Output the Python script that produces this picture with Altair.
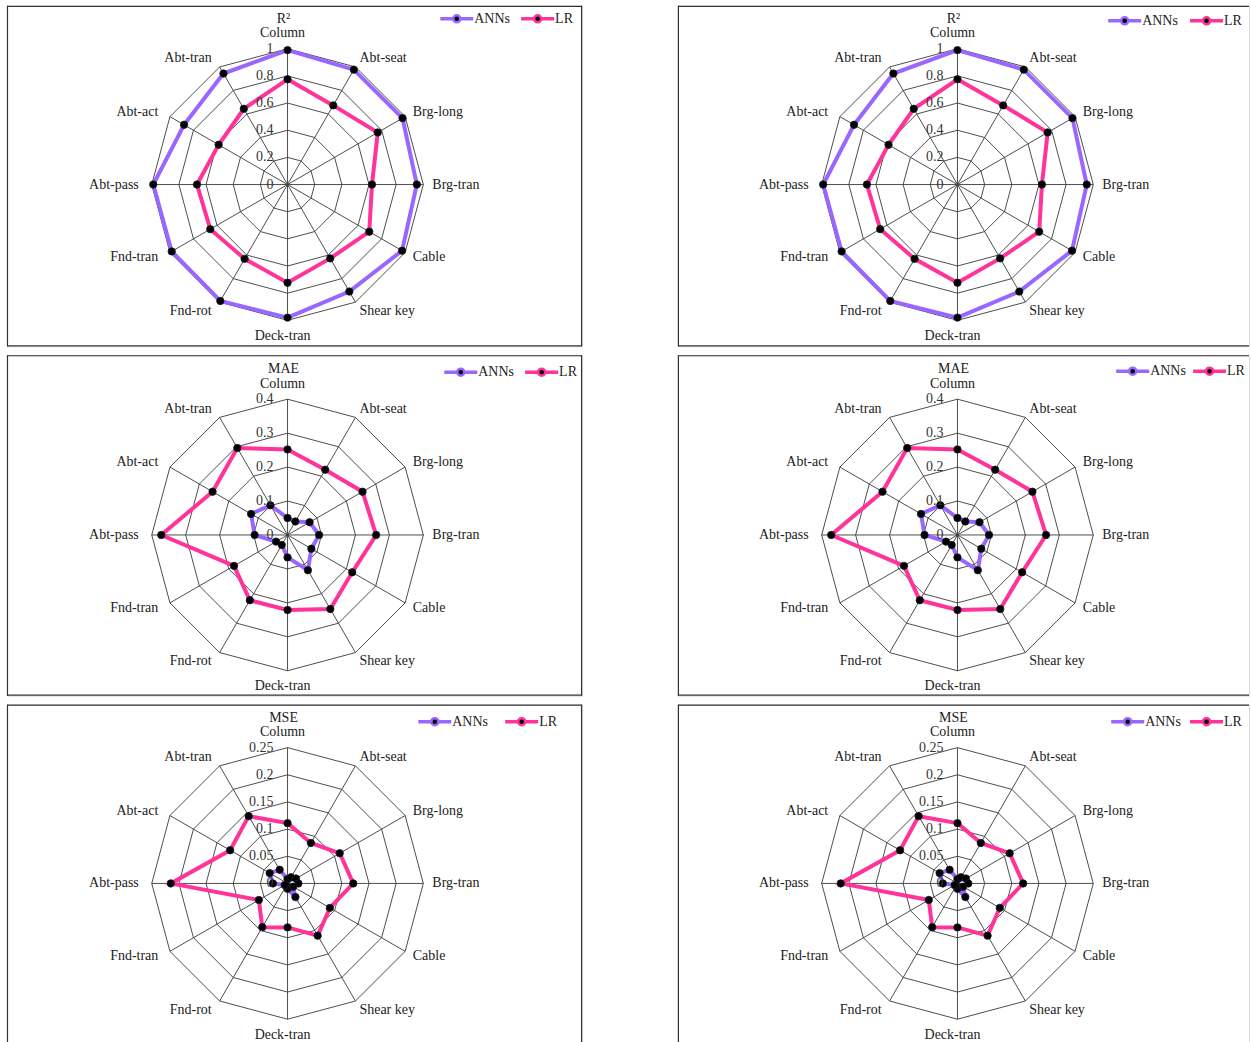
import altair as alt
import pandas as pd

# Twelve response components, clockwise from the top of each radar
categories = ["Column", "Abt-seat", "Brg-long", "Brg-tran", "Cable", "Shear key",
              "Deck-tran", "Fnd-rot", "Fnd-tran", "Abt-pass", "Abt-act", "Abt-tran"]
series_names = ["ANNs", "LR"]
series_colors = ["#9966ff", "#ff3399"]

r2_ann = [0.990, 0.977, 0.978, 0.952, 0.974, 0.910, 0.980, 0.990, 0.985, 0.989, 0.880, 0.944]
r2_lr = [0.775, 0.673, 0.767, 0.622, 0.695, 0.628, 0.723, 0.632, 0.657, 0.667, 0.586, 0.644]
mae_ann = [0.050, 0.046, 0.075, 0.093, 0.081, 0.120, 0.066, 0.034, 0.039, 0.097, 0.124, 0.101]
mae_lr = [0.252, 0.222, 0.255, 0.261, 0.220, 0.252, 0.221, 0.222, 0.182, 0.372, 0.255, 0.296]
mse_ann = [0.008, 0.013, 0.018, 0.020, 0.012, 0.029, 0.010, 0.005, 0.006, 0.027, 0.038, 0.029]
mse_lr = [0.111, 0.086, 0.111, 0.121, 0.090, 0.111, 0.081, 0.093, 0.061, 0.215, 0.122, 0.143]

r2_ticks = [0, 0.2, 0.4, 0.6, 0.8, 1]
r2_tick_labels = ["0", "0.2", "0.4", "0.6", "0.8", "1"]
mae_ticks = [0, 0.1, 0.2, 0.3, 0.4]
mae_tick_labels = ["0", "0.1", "0.2", "0.3", "0.4"]
mse_ticks = [0, 0.05, 0.1, 0.15, 0.2, 0.25]
mse_tick_labels = ["0", "0.05", "0.1", "0.15", "0.2", "0.25"]

FONT = "Liberation Serif"
TEXT_COLOR = "#222222"
GRID_COLOR = "#3a3a3a"
FRAME_COLOR = "#333333"
R = 136          # outer ring radius in pixels
N = len(categories)
ANG = f"datum.idx * 2 * PI / {N}"
SERIES_SCALE = alt.Scale(domain=series_names, range=series_colors)


def radar(title, ann, lr, ticks, tick_labels, w, h, cx, cy,
          leg_x, leg_y, leg_step, edges):
    vmax = ticks[-1]
    xs = alt.Scale(domain=[-cx, w - cx], nice=False, zero=False)
    ys = alt.Scale(domain=[cy - h, cy], nice=False, zero=False)

    def X(f):
        return alt.X(f, type="quantitative", scale=xs, axis=None)

    def Y(f):
        return alt.Y(f, type="quantitative", scale=ys, axis=None)

    one = pd.DataFrame({"k": [0]})
    layers = []

    # panel frame (edges that fall outside the page are left out)
    frame_style = dict(color=FRAME_COLOR, strokeWidth=1.2)
    if "top" in edges:
        layers.append(alt.Chart(one).mark_rule(**frame_style).encode(
            x=alt.value(0), x2=alt.value(w), y=alt.value(0.5)))
    if "left" in edges:
        layers.append(alt.Chart(one).mark_rule(**frame_style).encode(
            x=alt.value(0.5), y=alt.value(0), y2=alt.value(h)))
    if "right" in edges:
        layers.append(alt.Chart(one).mark_rule(**frame_style).encode(
            x=alt.value(w - 0.5), y=alt.value(0), y2=alt.value(h)))
    if "bottom" in edges:
        layers.append(alt.Chart(one).mark_rule(**frame_style).encode(
            x=alt.value(0), x2=alt.value(w), y=alt.value(h - 0.5)))

    # polygonal rings, one per tick above zero
    ring_rows = [{"level": t, "idx": i} for t in ticks[1:] for i in range(N + 1)]
    layers.append(alt.Chart(pd.DataFrame(ring_rows)).transform_calculate(
        r=f"datum.level / {vmax} * {R}"
    ).transform_calculate(
        x=f"datum.r * sin({ANG})", y=f"datum.r * cos({ANG})"
    ).mark_line(color=GRID_COLOR, strokeWidth=0.9).encode(
        x=X("x"), y=Y("y"), detail="level:N", order="idx:Q"
    ))

    # spokes from the centre to every category
    layers.append(alt.Chart(pd.DataFrame({"idx": list(range(N))})).transform_calculate(
        x=f"{R} * sin({ANG})", y=f"{R} * cos({ANG})", x0="0", y0="0"
    ).mark_rule(color=GRID_COLOR, strokeWidth=0.9).encode(
        x=X("x"), y=Y("y"), x2="x0:Q", y2="y0:Q"
    ))

    # series polygons (first point repeated to close the outline)
    srows = []
    for name, vals in zip(series_names, [ann, lr]):
        for i, v in enumerate(list(vals) + [vals[0]]):
            srows.append({"series": name, "idx": i, "value": v})
    base = alt.Chart(pd.DataFrame(srows)).transform_calculate(
        r=f"datum.value / {vmax} * {R}"
    ).transform_calculate(
        x=f"datum.r * sin({ANG})", y=f"datum.r * cos({ANG})"
    )
    layers.append(base.mark_line(strokeWidth=4).encode(
        x=X("x"), y=Y("y"), order="idx:Q", detail="series:N",
        color=alt.Color("series:N", scale=SERIES_SCALE, legend=None),
    ))
    layers.append(base.transform_filter(f"datum.idx < {N}").mark_circle(
        size=55, color="black", opacity=1, stroke="#1a1a2e", strokeWidth=0.8
    ).encode(x=X("x"), y=Y("y")))

    # radial value labels along the top spoke
    tdf = pd.DataFrame({"tick": ticks, "label": tick_labels})
    layers.append(alt.Chart(tdf).transform_calculate(
        x="0", y=f"datum.tick / {vmax} * {R}"
    ).mark_text(font=FONT, fontSize=14, color="#333333", align="right",
                baseline="middle", dx=-14).encode(x=X("x"), y=Y("y"), text="label:N"))

    # category labels around the outer ring
    cdf = pd.DataFrame({"category": categories, "idx": list(range(N))})
    cbase = alt.Chart(cdf).transform_calculate(s=f"sin({ANG})", c=f"cos({ANG})")
    side = cbase.transform_calculate(
        x=f"({R} + 10) * datum.s", y=f"({R} + 10) * datum.c"
    )
    text_style = dict(font=FONT, fontSize=14, color=TEXT_COLOR, baseline="middle")
    layers.append(side.transform_filter("datum.s > 0.1").mark_text(
        align="left", dx=-1, **text_style
    ).encode(x=X("x"), y=Y("y"), text="category:N"))
    layers.append(side.transform_filter("datum.s < -0.1").mark_text(
        align="right", dx=-3, **text_style
    ).encode(x=X("x"), y=Y("y"), text="category:N"))
    layers.append(cbase.transform_filter("abs(datum.s) <= 0.1").transform_calculate(
        x="0", y=f"({R} + 15.5) * datum.c"
    ).mark_text(align="center", dx=-5, **text_style).encode(
        x=X("x"), y=Y("y"), text="category:N"))

    # metric name above the top label
    layers.append(alt.Chart(pd.DataFrame({"metric": [title]})).transform_calculate(
        x="0", y=f"{R} + 30"
    ).mark_text(align="center", dx=-4, **text_style).encode(
        x=X("x"), y=Y("y"), text="metric:N"))

    # legend: line with a dot, then the series name, laid out left to right
    lx0 = leg_x - cx
    ly = cy - leg_y
    leg = alt.Chart(pd.DataFrame({"series": series_names, "k": [0, 1]})).transform_calculate(
        lx=f"{lx0} + datum.k * {leg_step}", ly=f"{ly}"
    ).transform_calculate(
        lx2="datum.lx + 33", lc="datum.lx + 16.5", lt="datum.lx + 34"
    )
    layers.append(leg.mark_rule(strokeWidth=3.5).encode(
        x=X("lx"), x2="lx2:Q", y=Y("ly"),
        color=alt.Color("series:N", scale=SERIES_SCALE, legend=None)))
    layers.append(leg.mark_circle(size=50, fill="black", opacity=1, strokeWidth=2.5).encode(
        x=X("lc"), y=Y("ly"),
        stroke=alt.Stroke("series:N", scale=SERIES_SCALE, legend=None)))
    layers.append(leg.mark_text(align="left", **text_style).encode(
        x=X("lt"), y=Y("ly"), text="series:N"))

    return alt.layer(*layers).properties(width=w, height=h)


LW, RW = 576, 572           # view widths of the left and right columns
H1, H2, H3 = 341, 341, 338  # view heights of the three rows
ALL = ("top", "left", "right", "bottom")

panels = []
rows = [
    ("R\u00b2", r2_ann, r2_lr, r2_ticks, r2_tick_labels, H1, 179,
     [(434, 13, 81), (431, 15, 82)], False),
    ("MAE", mae_ann, mae_lr, mae_ticks, mae_tick_labels, H2, 180,
     [(438, 17, 81), (439, 16, 77)], False),
    ("MSE", mse_ann, mse_lr, mse_ticks, mse_tick_labels, H3, 179,
     [(412, 17, 87), (434, 17, 79)], True),
]
for title, ann, lr, ticks, labels, h, cy, legends, bottom in rows:
    left_edges = ("top", "left", "right") if bottom else ALL
    right_edges = ("top", "left") if bottom else ("top", "left", "bottom")
    (lx_l, ly_l, st_l), (lx_r, ly_r, st_r) = legends
    panels.append(radar(title, ann, lr, ticks, labels, LW, h, 281, cy,
                        lx_l, ly_l, st_l, left_edges))
    panels.append(radar(title, ann, lr, ticks, labels, RW, h, 280, cy,
                        lx_r, ly_r, st_r, right_edges))

chart = alt.concat(
    *panels, columns=2, spacing={"row": 9, "column": 96}, bounds="flush"
).resolve_scale(
    x="independent", y="independent", color="independent", stroke="independent"
).properties(
    padding={"left": 5, "top": 3, "right": 0, "bottom": 0},
    background="white",
).configure_view(strokeWidth=0, strokeOpacity=0).configure(font=FONT)

chart.save("out.html", embed_options={"renderer": "svg", "actions": False})
